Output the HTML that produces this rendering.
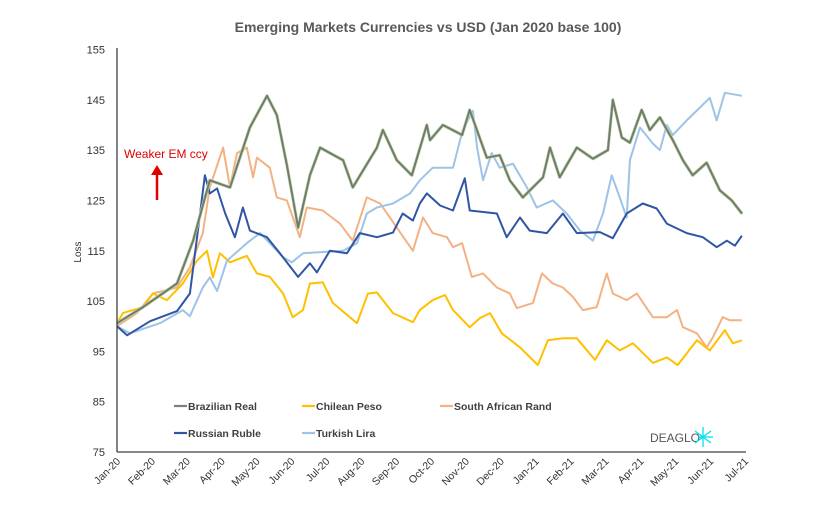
<!DOCTYPE html>
<html><head><meta charset="utf-8"><style>
body{margin:0;background:#fff;}
svg{display:block;font-family:"Liberation Sans",Arial,sans-serif;}
</style></head><body>
<svg id="chart" width="836" height="507" viewBox="0 0 836 507">
<defs><filter id="glow" x="-5%" y="-5%" width="110%" height="110%"><feMorphology operator="dilate" radius="0.7" in="SourceAlpha" result="d"/><feFlood flood-color="#b5dd98"/><feComposite in2="d" operator="in" result="g"/><feMerge><feMergeNode in="g"/><feMergeNode in="SourceGraphic"/></feMerge></filter></defs>
<text x="428" y="32" text-anchor="middle" font-size="14" font-weight="bold" fill="#595959">Emerging Markets Currencies vs USD (Jan 2020 base 100)</text>
<text transform="translate(81,252) rotate(-90)" text-anchor="middle" font-size="10" fill="#333">Loss</text>
<g id="yticks"></g><g id="xticks"></g>
<g id="series"></g>
<line x1="117" y1="48" x2="117" y2="452" stroke="#404040" stroke-width="1.3"/>
<line x1="117" y1="452" x2="746" y2="452" stroke="#404040" stroke-width="1.3"/>
<text x="124" y="158" font-size="12" fill="#e00000">Weaker EM ccy</text>
<g><line x1="157" y1="200" x2="157" y2="174" stroke="#e00000" stroke-width="2.5"/><polygon points="151,175 163,175 157,165" fill="#e00000"/></g>
<g id="legend"></g>
<g><text x="650" y="442" font-size="12" fill="#555">DEAGLO</text>
<g stroke="#00e0f0" stroke-width="1.3"><line x1="703" y1="427" x2="703" y2="447"/><line x1="695" y1="431" x2="711" y2="443"/><line x1="695" y1="443" x2="711" y2="431"/><line x1="698" y1="437" x2="713" y2="437"/></g></g>
</svg>
<script>
const yTicks=[75,85,95,105,115,125,135,145,155];
const months=["Jan-20","Feb-20","Mar-20","Apr-20","May-20","Jun-20","Jul-20","Aug-20","Sep-20","Oct-20","Nov-20","Dec-20","Jan-21","Feb-21","Mar-21","Apr-21","May-21","Jun-21","Jul-21"];
const seriesNames=["Brazilian Real","Chilean Peso","South African Rand","Russian Ruble","Turkish Lira"];
const brlT=[0,0.745,1.72,2.18,2.66,3.24,3.81,4.30,4.58,4.87,5.19,5.53,5.82,6.48,6.76,7.45,7.62,8.02,8.45,8.88,8.97,9.34,9.89,10.11,10.60,10.97,11.26,11.63,12.21,12.41,12.69,13.18,13.64,14.07,14.21,14.47,14.70,15.04,15.27,15.56,15.93,16.22,16.50,16.90,17.28,17.62,17.91];
const brlV=[100.6,103.8,108.5,117,129,127.6,139.5,145.8,142,132,119.6,130,135.5,133,127.6,135.5,139,133,130,140,137,140,138,143,133.5,134,129,125.6,129.6,135.5,129.6,135.5,133.3,135,145,137.5,136.5,143,139,141.5,137,133,130,132.5,127,125,122.4,125.6];
const clpT=[0,0.17,0.74,1.03,1.43,1.89,2.29,2.58,2.75,2.95,3.24,3.72,4.01,4.38,4.76,5.04,5.33,5.53,5.90,6.19,6.88,7.19,7.45,7.91,8.48,8.68,9.05,9.40,9.63,10.11,10.40,10.69,11.03,11.55,12.06,12.35,12.78,13.18,13.70,14.04,14.41,14.79,15.36,15.76,16.07,16.62,16.99,17.42,17.65,17.91];
const clpV=[100.6,102.6,103.8,106.5,105.2,108.5,113,115,109.7,114.5,112.7,114,110.5,109.8,106.5,101.8,103.2,108.5,108.7,104.6,100.6,106.5,106.7,102.6,100.8,103.2,105.2,106.2,103.2,99.8,101.6,102.6,98.6,95.8,92.3,97.2,97.6,97.6,93.3,97.2,95.2,96.6,92.7,93.8,92.3,97.2,95.2,99.2,96.6,97.2];
const zarT=[0,0.57,1.03,1.72,2.09,2.46,2.66,3.04,3.24,3.44,3.72,3.90,4.01,4.38,4.58,4.87,5.24,5.44,5.90,6.39,6.76,7.16,7.54,8.02,8.48,8.77,9.05,9.46,9.63,9.89,10.17,10.49,10.89,11.26,11.46,11.92,12.18,12.49,12.78,13.07,13.35,13.75,14.04,14.21,14.61,14.90,15.36,15.76,16.05,16.22,16.62,16.90,17.08,17.36,17.56,17.91];
const zarV=[100,102.6,106.5,107.7,111.7,118.5,127.6,135.5,127.6,134.4,135.5,129.6,133.5,131.5,125.6,125,117.7,123.6,123,120.4,117,125.6,124.4,119.6,115,121.6,118.5,117.7,115.7,116.5,109.8,110.5,107.7,106.5,103.6,104.6,110.5,108.5,107.7,105.8,103.2,103.8,110.5,106.5,105.2,106.5,101.8,101.8,103.2,99.8,98.6,95.8,97.8,101.8,101.2,101.2];
const rubT=[0,0.29,0.95,1.72,2.09,2.32,2.52,2.66,2.87,3.10,3.38,3.61,3.81,4.30,4.67,5.19,5.53,5.73,6.10,6.59,6.96,7.45,7.91,8.19,8.48,8.68,8.88,9.26,9.63,9.97,10.11,10.89,11.17,11.55,11.83,12.32,12.78,13.18,13.84,14.21,14.61,15.07,15.47,15.76,16.33,16.79,17.19,17.48,17.71,17.91];
const rubV=[100,98.2,101,103,106.5,119,130,126.4,127.4,122.4,117.7,123.6,119,117.7,114.5,109.8,112.5,110.7,115,114.5,118.5,117.7,118.6,122.4,121,124.4,126.4,124,123,129.4,123,122.4,117.7,121.6,119,118.5,122.4,118.5,118.7,117.5,122.4,124.4,123.4,120.4,118.5,117.7,115.7,117,116,118];
const tryT=[0,0.37,1.23,1.89,2.09,2.46,2.66,2.87,3.15,3.72,4.10,4.38,4.76,5.01,5.33,6.48,6.88,7.16,7.45,7.91,8.40,8.68,9.05,9.63,9.91,10.20,10.32,10.49,10.74,10.97,11.35,11.75,12.03,12.49,12.89,13.27,13.64,13.93,14.18,14.41,14.61,14.70,14.99,15.36,15.56,15.76,15.93,16.33,16.70,16.99,17.19,17.42,17.91];
const tryV=[100,98.6,100.6,103.2,102,107.7,109.7,107,113,116.5,118.5,116.5,113.7,112.7,114.5,115,116.5,122.4,123.6,124.4,126.4,129,131.5,131.5,139,142.8,135.5,129,134.4,131.5,132.3,127.6,123.6,125,122.4,119,117,122.4,130,125.6,121.6,133,139.5,136.3,135,140,138,140.9,143.4,145.4,140.9,146.4,145.8];

const NS="http://www.w3.org/2000/svg";
const X0=117,X1=745,Y0=452,Y1=49.5;
function xs(t){return X0+(X1-X0)*t/18;}
function ys(v){return Y0-(Y0-Y1)*(v-75)/80;}
function mk(tag,attrs,parent){const e=document.createElementNS(NS,tag);for(const k in attrs)e.setAttribute(k,attrs[k]);parent.appendChild(e);return e;}
const yg=document.getElementById('yticks');
yTicks.forEach(v=>{const t=mk('text',{x:105,y:ys(v)+4,'text-anchor':'end','font-size':11,fill:'#333'},yg);


t.textContent=v;});
const xg=document.getElementById('xticks');
months.forEach((m,i)=>{const x=xs(i);const t=mk('text',{transform:`translate(${x+4},${462}) rotate(-45)`,'text-anchor':'end','font-size':10.5,fill:'#333'},xg);


t.textContent=m;});
const sg=document.getElementById('series');
const defs=[[zarT,zarV,'#f4b183','south-african-rand-line',false],[clpT,clpV,'#ffc000','chilean-peso-line',false],[tryT,tryV,'#9dc3e6','turkish-lira-line',false],[rubT,rubV,'#2f55a4','russian-ruble-line',false],[brlT,brlV,'#767676','brazilian-real-line',true]];
defs.forEach(d=>{const pts=d[0].map((t,i)=>xs(t).toFixed(1)+','+ys(d[1][i]).toFixed(1)).join(' ');
const p=mk('polyline',{points:pts,fill:'none',stroke:d[2],'stroke-width':2,'stroke-linejoin':'round'},sg);
if(d[4])p.setAttribute('filter','url(#glow)');

});
const lg=document.getElementById('legend');
const lcols=['#7f7f7f','#ffc000','#f4b183','#2f55a4','#9dc3e6'];
const lpos=[[174,406],[302,406],[440,406],[174,433],[302,433]];
seriesNames.forEach((n,i)=>{const g=mk('g',{},lg);


mk('line',{x1:lpos[i][0],y1:lpos[i][1],x2:lpos[i][0]+13,y2:lpos[i][1],stroke:lcols[i],'stroke-width':2.2},g);
const t=mk('text',{x:lpos[i][0]+14,y:lpos[i][1]+4,'font-size':10.5,'font-weight':'bold',fill:'#404040'},g);t.textContent=n;});
</script>
</body></html>
